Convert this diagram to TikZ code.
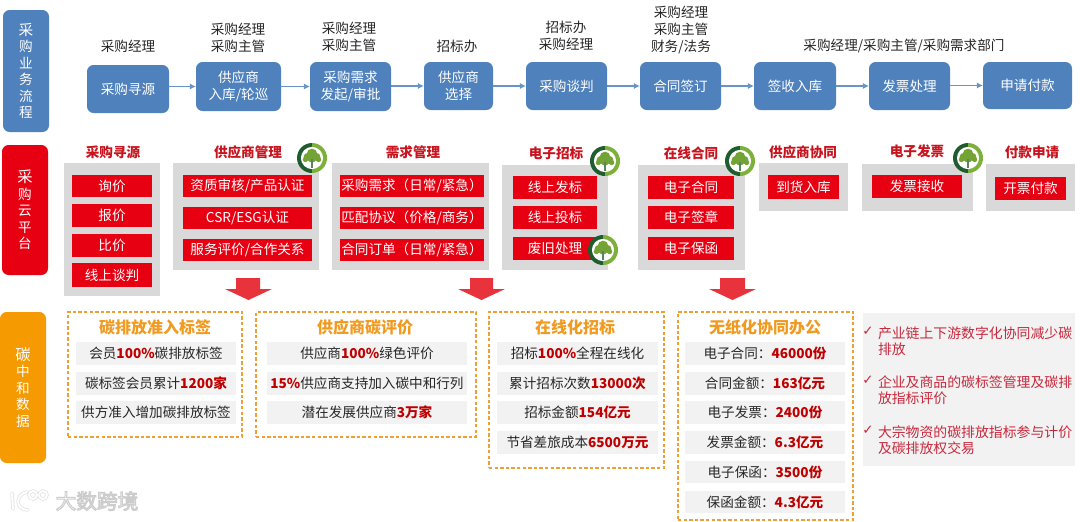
\documentclass[tikz,border=0pt]{standalone}
\usepackage{fontspec}
\setmainfont{Noto Sans CJK SC}
\newfontfamily\symfont{DejaVu Sans}
\usetikzlibrary{arrows.meta}
\definecolor{laneblue}{HTML}{4F81BD}
\definecolor{cloudred}{HTML}{E60012}
\definecolor{panelgray}{HTML}{D9D9D9}
\definecolor{rowgray}{HTML}{F2F2F2}
\definecolor{dashorange}{HTML}{F0A030}
\definecolor{laneorange}{HTML}{F59A00}
\definecolor{titleorange}{HTML}{F09A20}
\definecolor{arrowred}{HTML}{E8323C}
\definecolor{numred}{HTML}{C00000}
\definecolor{notered}{HTML}{C8283C}
\definecolor{titlered}{HTML}{C8141E}
\definecolor{ringdark}{HTML}{1F5C2E}
\definecolor{ringlight}{HTML}{7DB03A}
\definecolor{inktext}{HTML}{262626}
\newcommand{\rbox}[7]{%
  \pgfmathsetmacro{\bw}{(#4-#2)*0.75}%
  \pgfmathsetmacro{\bh}{(#5-#3)*0.75}%
  \pgfmathsetmacro{\bx}{(#2+#4)/2}%
  \pgfmathsetmacro{\by}{(#3+#5)/2}%
  \node[#6,minimum width=\bw pt,minimum height=\bh pt] (#1) at (\bx,\by) {#7};}
\newcommand{\badge}[2]{%
  \begin{scope}[shift={(#1,#2)}]
    \fill[ringdark] (0,11.25pt) arc[start angle=90,end angle=270,radius=11.25pt] -- cycle;
    \fill[ringlight] (0,11.25pt) arc[start angle=90,end angle=-90,radius=11.25pt] -- cycle;
    \fill[white] (0,0) circle[radius=8.3pt];
    \fill[ringlight!92!black] (0pt,3pt) circle[radius=4pt] (-3.3pt,.8pt) circle[radius=3pt] (3.3pt,.8pt) circle[radius=3pt] (-5pt,-1.2pt) circle[radius=1.9pt] (5pt,-1.2pt) circle[radius=1.9pt] (0pt,-.5pt) circle[radius=3pt];
    \fill[ringdark!75!white] (-.55pt,-7.8pt) rectangle (.55pt,-1pt);
  \end{scope}}
\tikzset{
  every node/.style={inner sep=0pt,outer sep=0pt,font=\fontsize{10.2pt}{12.4pt}\selectfont},
  lane/.style={rounded corners=5pt,text=white,align=center},
  flowbox/.style={fill=laneblue,rounded corners=5pt,text=white,align=center},
  flowlink/.style={laneblue!85,line width=.85pt,-{Latex[length=4.6pt,width=4.6pt]}},
  rolelabel/.style={text=inktext,align=center},
  panel/.style={fill=panelgray},
  item/.style={fill=cloudred,text=white},
  cloudtitle/.style={text=titlered,font=\fontsize{10.2pt}{12.4pt}\selectfont\bfseries},
  dashbox/.style={draw=dashorange,line width=1pt,dash pattern=on 2.6pt off 1.6pt},
  dashtitle/.style={text=titleorange,font=\fontsize{12pt}{14pt}\selectfont\bfseries},
  datarow/.style={fill=rowgray,text=inktext},
  bigarrow/.style={fill=arrowred},
  notetext/.style={text=notered,anchor=west,align=left,font=\fontsize{10.4pt}{12.2pt}\selectfont},
  notecheck/.style={text=notered,font=\symfont\fontsize{10pt}{10pt}\selectfont},
  logoedge/.style={gray!22,line width=2.6pt,line cap=round},
  logocore/.style={white,line width=1.4pt,line cap=round},
}
\newcommand{\hl}[1]{\textcolor{numred}{\textbf{#1}}}
\begin{document}
\begin{tikzpicture}[x=0.75pt,y=-0.75pt]
\useasboundingbox[fill=white] (0,0) rectangle (1080,521);
% lanes
\rbox{laneA}{3}{10}{49}{132}{lane,fill=laneblue}{\fontsize{11pt}{12.8pt}\selectfont 采\\购\\业\\务\\流\\程}
\rbox{laneB}{2}{145}{48}{275}{lane,fill=cloudred}{\fontsize{11.5pt}{14.6pt}\selectfont 采\\购\\云\\平\\台}
\rbox{laneC}{0}{312}{46}{463}{lane,fill=laneorange}{\fontsize{11.5pt}{14.3pt}\selectfont 碳\\中\\和\\数\\据}
% flow
\rbox{f1}{87}{65}{169}{113}{flowbox}{采购寻源}
\rbox{f2}{196}{62}{281}{111}{flowbox}{供应商\\入库/轮巡}
\rbox{f3}{310}{62}{391}{111}{flowbox}{采购需求\\发起/审批}
\rbox{f4}{424}{62}{493}{110}{flowbox}{供应商\\选择}
\rbox{f5}{526}{62}{607}{110}{flowbox}{采购谈判}
\rbox{f6}{640}{62}{721}{110}{flowbox}{合同签订}
\rbox{f7}{754}{62}{836}{110}{flowbox}{签收入库}
\rbox{f8}{869}{62}{950}{110}{flowbox}{发票处理}
\rbox{f9}{983}{62}{1072}{109}{flowbox}{申请付款}
\foreach \a/\b in {f1/f2,f2/f3,f3/f4,f4/f5,f5/f6,f6/f7,f7/f8,f8/f9}{\draw[flowlink] (\a.east |- \b.west) -- (\b.west);}
\node[rolelabel] (r1) at (128,46) {采购经理};
\node[rolelabel] (r2) at (238,38) {采购经理\\采购主管};
\node[rolelabel] (r3) at (349,37) {采购经理\\采购主管};
\node[rolelabel] (r4) at (457,46) {招标办};
\node[rolelabel] (r5) at (566,36) {招标办\\采购经理};
\node[rolelabel] (r6) at (681,30) {采购经理\\采购主管\\财务/法务};
\node[rolelabel] (r7) at (904,46) {采购经理/采购主管/采购需求部门};
% cloud panels
\rbox{p1}{64}{163}{160}{296}{panel}{}
\rbox{p2}{173}{163}{319}{270}{panel}{}
\rbox{p3}{332}{163}{489}{270}{panel}{}
\rbox{p4}{502}{165}{608}{270}{panel}{}
\rbox{p5}{638}{165}{745}{270}{panel}{}
\rbox{p6}{759}{163}{848}{211}{panel}{}
\rbox{p7}{862}{164}{973}{211}{panel}{}
\rbox{p8}{986}{164}{1075}{211}{panel}{}
\node[cloudtitle] (t1) at (113,152) {采购寻源};
\node[cloudtitle] (t2) at (248,152) {供应商管理};
\node[cloudtitle] (t3) at (413,152) {需求管理};
\node[cloudtitle] (t4) at (556,153) {电子招标};
\node[cloudtitle] (t5) at (691,153) {在线合同};
\node[cloudtitle] (t6) at (803,152) {供应商协同};
\node[cloudtitle] (t7) at (917,151) {电子发票};
\node[cloudtitle] (t8) at (1032,152) {付款申请};
\rbox{i11}{72}{175}{152}{197}{item}{询价}
\rbox{i12}{72}{204}{152}{227}{item}{报价}
\rbox{i13}{72}{234}{152}{257}{item}{比价}
\rbox{i14}{72}{263}{152}{287}{item}{线上谈判}
\rbox{i21}{183}{175}{312}{197}{item}{资质审核/产品认证}
\rbox{i22}{183}{207}{312}{229}{item}{CSR/ESG认证}
\rbox{i23}{183}{239}{312}{261}{item}{服务评价/合作关系}
\rbox{i31}{340}{175}{484}{197}{item}{采购需求（日常/紧急）}
\rbox{i32}{340}{207}{484}{229}{item}{匹配协议（价格/商务）}
\rbox{i33}{340}{239}{484}{261}{item}{合同订单（日常/紧急）}
\rbox{i41}{513}{176}{597}{199}{item}{线上发标}
\rbox{i42}{513}{206}{597}{229}{item}{线上投标}
\rbox{i43}{513}{237}{597}{260}{item}{废旧处理}
\rbox{i51}{648}{176}{734}{199}{item}{电子合同}
\rbox{i52}{648}{206}{734}{229}{item}{电子签章}
\rbox{i53}{648}{237}{734}{260}{item}{电子保函}
\rbox{i61}{768}{175}{839}{199}{item}{到货入库}
\rbox{i71}{872}{175}{962}{198}{item}{发票接收}
\rbox{i81}{995}{177}{1066}{200}{item}{开票付款}
\badge{312}{158}
\badge{605}{161}
\badge{740}{161}
\badge{968}{158}
\badge{603}{250}
% big arrows
\fill[bigarrow] (236,278) -- (260,278) -- (260,289) -- (272,289) -- (248.5,300) -- (225,289) -- (236,289) -- cycle;
\fill[bigarrow] (470,278) -- (493,278) -- (493,289) -- (505,289) -- (481.5,300) -- (458,289) -- (470,289) -- cycle;
\fill[bigarrow] (720,278) -- (745,278) -- (745,289) -- (756,289) -- (732.5,300) -- (709,289) -- (720,289) -- cycle;
% data
\rbox{d1}{68}{312}{242}{437}{dashbox}{}
\rbox{d2}{256}{312}{476}{437}{dashbox}{}
\rbox{d3}{489}{312}{664}{468}{dashbox}{}
\rbox{d4}{678}{312}{853}{520}{dashbox}{}
\node[dashtitle] (dt1) at (155,327) {碳排放准入标签};
\node[dashtitle] (dt2) at (365,327) {供应商碳评价};
\node[dashtitle] (dt3) at (575,327) {在线化招标};
\node[dashtitle] (dt4) at (765,327) {无纸化协同办公};
\rbox{a1}{76}{342}{236}{365}{datarow}{会员\hl{100\%}碳排放标签}
\rbox{a2}{76}{372}{236}{395}{datarow}{碳标签会员累计\hl{1200家}}
\rbox{a3}{76}{401}{236}{424}{datarow}{供方准入增加碳排放标签}
\rbox{b1}{267}{342}{467}{365}{datarow}{供应商\hl{100\%}绿色评价}
\rbox{b2}{267}{372}{467}{395}{datarow}{\hl{15\%}供应商支持加入碳中和行列}
\rbox{b3}{267}{401}{467}{424}{datarow}{潜在发展供应商\hl{3万家}}
\rbox{c1}{497}{342}{658}{365}{datarow}{招标\hl{100\%}全程在线化}
\rbox{c2}{497}{372}{658}{395}{datarow}{累计招标次数\hl{13000次}}
\rbox{c3}{497}{401}{658}{424}{datarow}{招标金额\hl{154亿元}}
\rbox{c4}{497}{431}{658}{454}{datarow}{节省差旅成本\hl{6500万元}}
\rbox{e1}{685}{342}{845}{365}{datarow}{电子合同：\hl{46000份}}
\rbox{e2}{685}{372}{845}{395}{datarow}{合同金额：\hl{163亿元}}
\rbox{e3}{685}{401}{845}{424}{datarow}{电子发票：\hl{2400份}}
\rbox{e4}{685}{431}{845}{454}{datarow}{发票金额：\hl{6.3亿元}}
\rbox{e5}{685}{461}{845}{483}{datarow}{电子保函：\hl{3500份}}
\rbox{e6}{685}{491}{845}{513}{datarow}{保函金额：\hl{4.3亿元}}
% notes
\rbox{n0}{863}{313}{1075}{466}{fill=rowgray}{}
\node[notecheck] (k1) at (868,331) {✓};
\node[notecheck] (k2) at (868,380) {✓};
\node[notecheck] (k3) at (868,430) {✓};
\node[notetext] (n1) at (878,341) {产业链上下游数字化协同减少碳\\排放};
\node[notetext] (n2) at (878,390) {企业及商品的碳标签管理及碳排\\放指标评价};
\node[notetext] (n3) at (878,440) {大宗物资的碳排放指标参与计价\\及碳排放权交易};
% watermark
\foreach \s in {logoedge,logocore}{
  \draw[\s] (12,493) -- (13,509);
  \draw[\s] (27,492) .. controls (15,494) and (15,510) .. (28,510);
  \draw[\s] (33,495) circle[radius=3pt];
  \draw[\s] (43,495) circle[radius=3pt];
}
\node[text=white,font=\fontsize{15.5pt}{18pt}\selectfont] (wm) at (97,501) {\special{pdf:code 2 Tr 0.75 w 0.80 G 1 g}大数跨境\special{pdf:code 0 Tr 1 w}};
\end{tikzpicture}
\end{document}
